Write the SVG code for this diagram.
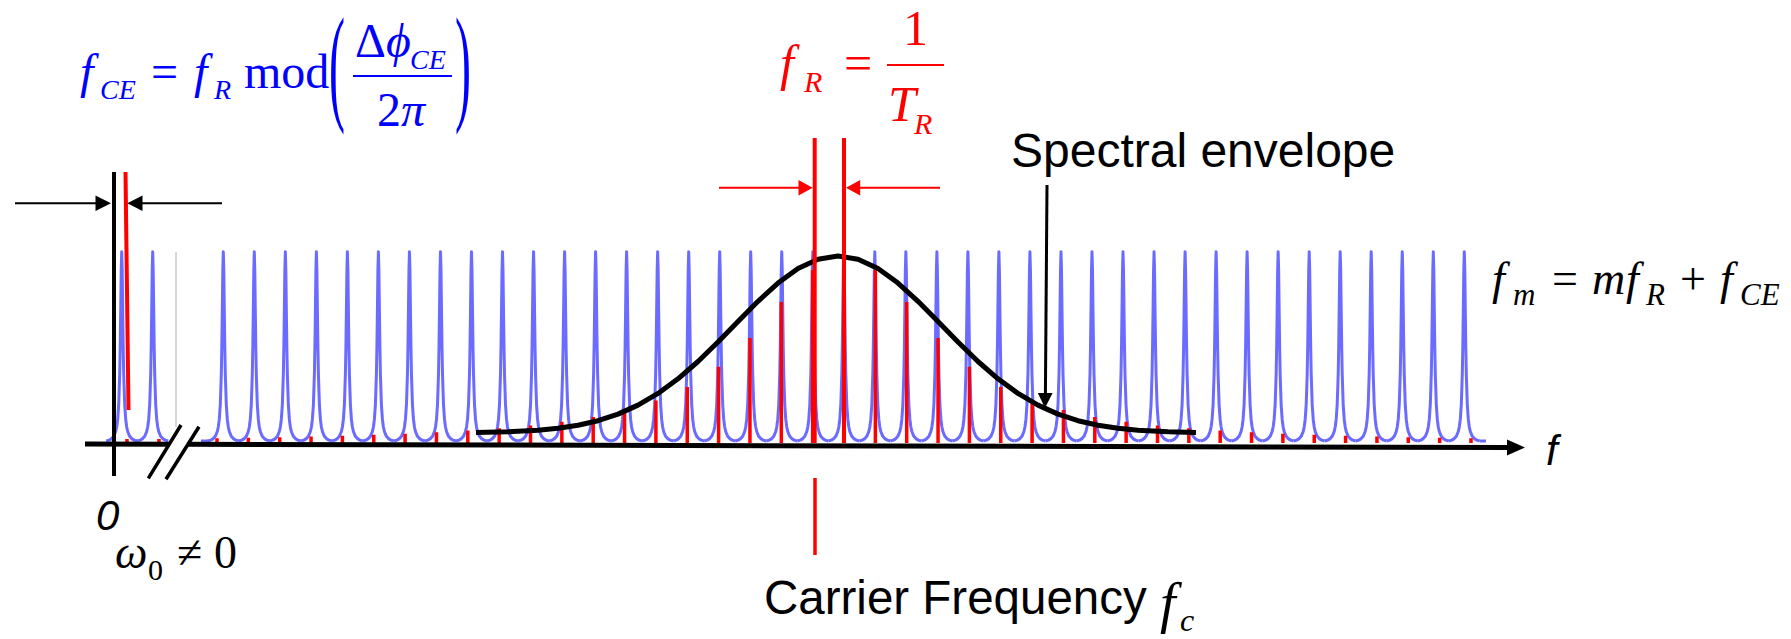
<svg xmlns="http://www.w3.org/2000/svg" width="1791" height="639" viewBox="0 0 1791 639">
<style>
.serif{font-family:"Liberation Serif","Times New Roman",serif}
.sans{font-family:"Liberation Sans",Arial,sans-serif}
.it{font-style:italic}
.blue{fill:#0000ff}
.red{fill:#ff0000}
.blk{fill:#000}
.comb{fill:none;stroke:#6b6bff;stroke-width:3;stroke-linejoin:round}
.rline{stroke:#ff0000;fill:none}
.kline{stroke:#000;fill:none}
</style>
<defs>
<path id="pk" d="M-15.5,0 L-12.5,-0.9 L-10,-2.4 L-8,-4.7 L-6,-9.5 L-5,-14 L-4,-21.8 L-3,-36.4 L-2,-67 L-1.5,-93.7 L-1,-130.5 L-0.5,-170.1 L0,-189.2 L0.5,-170.1 L1,-130.5 L1.5,-93.7 L2,-67 L3,-36.4 L4,-21.8 L5,-14 L6,-9.5 L8,-4.7 L10,-2.4 L12.5,-0.9 L15.5,0"/>
</defs>

<g id="pulse-comb" class="comb">
<use href="#pk" x="121.7" y="441"/><use href="#pk" x="152.7" y="441"/>
<path d="M201,441H208 M1480,441H1486"/>
<use href="#pk" x="223.3" y="441"/><use href="#pk" x="254.3" y="441"/><use href="#pk" x="285.35" y="441"/><use href="#pk" x="316.4" y="441"/><use href="#pk" x="347.4" y="441"/><use href="#pk" x="378.4" y="441"/><use href="#pk" x="409.45" y="441"/><use href="#pk" x="440.5" y="441"/><use href="#pk" x="471.5" y="441"/><use href="#pk" x="502.5" y="441"/><use href="#pk" x="533.55" y="441"/><use href="#pk" x="564.6" y="441"/><use href="#pk" x="595.6" y="441"/><use href="#pk" x="626.6" y="441"/><use href="#pk" x="657.65" y="441"/><use href="#pk" x="688.7" y="441"/><use href="#pk" x="719.7" y="441"/><use href="#pk" x="750.7" y="441"/><use href="#pk" x="781.75" y="441"/><use href="#pk" x="812.8" y="441"/><use href="#pk" x="843.8" y="441"/><use href="#pk" x="874.8" y="441"/><use href="#pk" x="905.85" y="441"/><use href="#pk" x="936.9" y="441"/><use href="#pk" x="967.9" y="441"/><use href="#pk" x="998.9" y="441"/><use href="#pk" x="1029.95" y="441"/><use href="#pk" x="1061" y="441"/><use href="#pk" x="1092" y="441"/><use href="#pk" x="1123" y="441"/><use href="#pk" x="1154.05" y="441"/><use href="#pk" x="1185.1" y="441"/><use href="#pk" x="1216.1" y="441"/><use href="#pk" x="1247.1" y="441"/><use href="#pk" x="1278.15" y="441"/><use href="#pk" x="1309.2" y="441"/><use href="#pk" x="1340.2" y="441"/><use href="#pk" x="1371.2" y="441"/><use href="#pk" x="1402.25" y="441"/><use href="#pk" x="1433.3" y="441"/><use href="#pk" x="1464.3" y="441"/>
</g>

<g id="gray-marker"><line x1="176" y1="252" x2="176" y2="427" stroke="#b0b0b0" stroke-width="1"/></g>

<g id="red-comb" class="rline" stroke-width="3.5">
<path d="M127,443V439 M159,443V439 M217,443V438.3 M248.35,443V437.8 M279.7,443V437.3 M311.05,443V436.6 M342.4,443V435.8 M373.75,443V434.8 M405.1,443V433.7 M436.45,443V432.3 M467.8,443V430.5 M499.15,443V428.3 M530.5,443V425.5 M561.85,443V421.8 M593.2,443V416.9 M624.55,443V410.1 M655.9,443V400.6 M687.25,443V386.9 M718.6,443V366.7 M749.95,443V338 M781.3,443V302 M812.65,443V270 M844,443V231 M875.35,443V270 M906.7,443V302 M938.05,443V338 M969.4,443V366.7 M1000.75,443V386.9 M1032.1,443V400.6 M1063.45,443V410.1 M1094.8,443V416.9 M1126.15,443V421.8 M1157.5,443V425.5 M1188.85,443V428.3 M1220.2,443V430.5 M1251.55,443V432.3 M1282.9,443V433.7 M1314.25,443V434.8 M1345.6,443V435.8 M1376.95,443V436.6 M1408.3,443V437.3 M1439.65,443V437.8 M1471,443V438.3"/>
</g>

<g id="envelope">
<polyline class="kline" stroke-width="5" stroke-linejoin="round" points="476,432.6 508,431.8 538,430.2 558,428.3 578,425.2 598,420.7 618,414.1 638,405.1 658,393.4 678,378.8 698,361.5 718,342 738,321.5 758,301.3 778,283.1 798,268.6 818,259.2 838,256 858,259.2 878,268.6 898,283.1 918,301.3 938,321.5 958,342 978,361.5 998,378.8 1018,393.4 1038,405.1 1058,414.1 1078,420.7 1098,425.2 1118,428.3 1138,430.2 1168,431.8 1196,432.6"/>
</g>

<g id="connectors">
<path class="kline" stroke-width="5" d="M85,444 L169,444.2 M188,444.3 L1509,447.5"/>
<polygon class="blk" points="1525,447.5 1507,439.5 1507,455.5"/>
<line class="kline" stroke-width="4" x1="114" y1="172" x2="114" y2="476"/>
<path class="kline" stroke-width="3.5" d="M148.3,478.3 L181,425 M166,479.3 L199,426.7"/>
<line class="rline" stroke-width="4" x1="125.5" y1="172" x2="128.5" y2="410"/>
<path class="kline" stroke-width="2" d="M15,203.3 H97 M140,203.3 H222"/>
<polygon class="blk" points="111,203.3 95.5,195.5 95.5,211.1"/>
<polygon class="blk" points="127.3,203.3 142.5,195.5 142.5,211.1"/>
<path class="rline" stroke-width="4" d="M814.7,138 V443 M844,138 V443"/>
<path class="rline" stroke-width="2" d="M719,187.7 H800 M860,187.7 H940"/>
<polygon class="red" points="812.7,187.7 798.5,179.9 798.5,195.5"/>
<polygon class="red" points="846,187.7 860.2,179.9 860.2,195.5"/>
<line class="rline" stroke-width="3.5" x1="815" y1="478" x2="815" y2="555"/>
<line class="kline" stroke-width="3" x1="1047" y1="185" x2="1045.4" y2="395"/>
<polygon class="blk" points="1045,408 1037.8,393 1052.6,393"/>
</g>

<g id="formula-fce" class="serif blue">
<text class="it" x="80" y="88" font-size="48">f</text>
<text class="it" x="100" y="99" font-size="28">CE</text>
<text x="151" y="88" font-size="48">=</text>
<text class="it" x="194" y="88" font-size="48">f</text>
<text class="it" x="214" y="99" font-size="28">R</text>
<text x="244" y="88" font-size="48">mod</text>
<text transform="translate(329,107) scale(1,2.68)" font-size="48">(</text>
<text x="355" y="57" font-size="48">Δ</text>
<text class="it" x="386" y="57" font-size="48">ϕ</text>
<text class="it" x="410" y="69" font-size="28">CE</text>
<line x1="353" y1="76" x2="452" y2="76" stroke="#0000ff" stroke-width="2"/>
<text x="377" y="126" font-size="48">2</text>
<text class="it" x="401" y="126" font-size="48">π</text>
<text transform="translate(455,107) scale(1,2.68)" font-size="48">)</text>
</g>

<g id="formula-fr" class="serif red">
<text class="it" x="780" y="80" font-size="50">f</text>
<text class="it" x="804" y="92" font-size="30">R</text>
<text x="844" y="80" font-size="50">=</text>
<text x="903" y="45" font-size="50">1</text>
<line x1="887" y1="65" x2="944" y2="65" stroke="#ff0000" stroke-width="2"/>
<text class="it" x="888" y="121" font-size="50">T</text>
<text class="it" x="914" y="134" font-size="30">R</text>
</g>

<g id="formula-fm" class="serif blk">
<text class="it" x="1492" y="294" font-size="46">f</text>
<text class="it" x="1513" y="305" font-size="31">m</text>
<text x="1552" y="294" font-size="46">=</text>
<text class="it" x="1592" y="294" font-size="46">m</text>
<text class="it" x="1626" y="294" font-size="46">f</text>
<text class="it" x="1646" y="305" font-size="31">R</text>
<text x="1680" y="294" font-size="46">+</text>
<text class="it" x="1720" y="294" font-size="46">f</text>
<text class="it" x="1740" y="305" font-size="31">CE</text>
</g>

<g id="label-spectral-envelope"><text class="sans blk" x="1011" y="167" font-size="48">Spectral envelope</text></g>

<g id="label-carrier">
<text class="sans blk" x="764" y="614" font-size="47.5">Carrier Frequency</text>
<text class="serif it blk" x="1160" y="622" font-size="56">f</text>
<text class="serif it blk" x="1180" y="631" font-size="32">c</text>
</g>

<g id="label-zero"><text class="sans it blk" x="96" y="530" font-size="42">0</text></g>
<g id="label-f"><text class="sans it blk" x="1546" y="465" font-size="42">f</text></g>

<g id="label-omega" class="serif blk">
<text class="it" x="115" y="568" font-size="46">ω</text>
<text x="148" y="580" font-size="30">0</text>
<text x="177" y="568" font-size="46">≠</text>
<text x="214" y="568" font-size="46">0</text>
</g>
</svg>
